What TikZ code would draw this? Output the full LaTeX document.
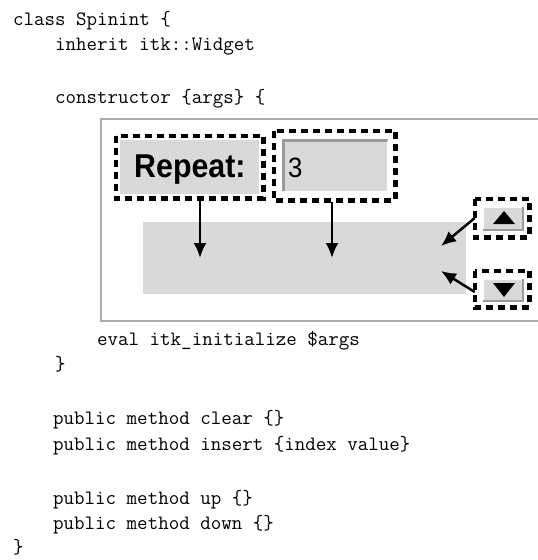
\documentclass[tikz,border=0pt]{standalone}
\usepackage{fontspec}
\newfontfamily\guifont{Liberation Sans}
\newfontfamily\guicond[FakeStretch=0.92]{Liberation Sans}
\usetikzlibrary{arrows.meta}
\definecolor{widgetgray}{HTML}{D9D9D9}
\definecolor{framegray}{HTML}{ABABAB}
\definecolor{bevelgray}{HTML}{9A9A9A}
\tikzset{
  code/.style={anchor=base west, inner sep=0pt, font=\ttfamily\fontsize{20.4}{24}\selectfont},
  antsbox/.style={rectangle, inner sep=0pt, line width=4.5pt, draw=white},
  ants/.style={line width=4.5pt, draw=black, dash pattern=on 7pt off 5pt},
  pointer/.style={line width=2.5pt, -{Latex[length=15pt,width=13pt]}},
}
\begin{document}
\begin{tikzpicture}[x=1pt,y=-1pt]
\useasboundingbox (0,0) rectangle (538,560);

% code text
\node[code] (l1) at (13,25) {class Spinint \{};
\node[code] (l2) at (55,50) {inherit itk::Widget};
\node[code] (l3) at (55,103) {constructor \{args\} \{};
\node[code] (l4) at (97,345) {eval itk\_initialize \$args};
\node[code] (l5) at (55,370) {\}};
\node[code] (l6) at (53,424) {public method clear \{\}};
\node[code] (l7) at (53,450) {public method insert \{index value\}};
\node[code] (l8) at (53,504) {public method up \{\}};
\node[code] (l9) at (53,529) {public method down \{\}};
\node[code] (l10) at (13,553) {\}};

% frame of the widget
\draw[framegray, line width=2pt] (560,119) -- (101,119) -- (101,321) -- (560,321);

% spinner area
\fill[widgetgray] (143,222) rectangle (466,294);

% label "Repeat:"
\node[antsbox, fill=widgetgray, minimum width=143pt, minimum height=58pt] (repeatbox) at (189.5,167) {};
\draw[ants] (repeatbox.north west) rectangle (repeatbox.south east);
\node[anchor=base west, inner sep=0pt, font=\guicond\bfseries\fontsize{33}{38}\selectfont] (repeattxt) at (134,177) {Repeat:};

% entry "3"
\node[antsbox, fill=white, minimum width=117pt, minimum height=65pt] (entrybox) at (334.5,165.5) {};
\fill[widgetgray] (283,140) rectangle (388,192);
\draw[bevelgray, line width=3pt] (283,191) -- (283,140) -- (388,140);
\draw[white, line width=2pt] (284,192) -- (388,192) -- (388,141);
\draw[ants] (entrybox.north west) rectangle (entrybox.south east);
\node[anchor=base west, inner sep=0pt, font=\guicond\fontsize{28}{30}\selectfont] (entrytxt) at (288,177) {3};

% up button
\node[antsbox, fill=white, minimum width=50pt, minimum height=34pt] (upbox) at (502,218) {};
\fill[widgetgray] (483,207) rectangle (523,230);
\draw[white, line width=1.5pt] (483,230) -- (483,207) -- (523,207);
\draw[bevelgray, line width=1.5pt] (483,230) -- (523,230) -- (523,207);
\fill[black] (504,211) -- (515,224) -- (493,224) -- cycle;
\draw[ants] (upbox.north west) rectangle (upbox.south east);

% down button
\node[antsbox, fill=white, minimum width=50pt, minimum height=32pt] (downbox) at (502,289) {};
\fill[widgetgray] (483,279) rectangle (523,301);
\draw[white, line width=1.5pt] (483,301) -- (483,279) -- (523,279);
\draw[bevelgray, line width=1.5pt] (483,301) -- (523,301) -- (523,279);
\fill[black] (493,283) -- (515,283) -- (504,297) -- cycle;
\draw[ants] (downbox.north west) rectangle (downbox.south east);

% arrows
\coordinate (a1) at (200,258);
\coordinate (a2) at (332,258);
\coordinate (a3) at (441,246);
\coordinate (a4) at (441,271);
\draw[pointer] (repeatbox.south -| a1) ++(0,2) -- (a1);
\draw[pointer] (entrybox.south -| a2) ++(0,2) -- (a2);
\draw[pointer] (upbox.west) -- (a3);
\draw[pointer] (downbox.west) ++(0,3) -- (a4);
\end{tikzpicture}
\end{document}
